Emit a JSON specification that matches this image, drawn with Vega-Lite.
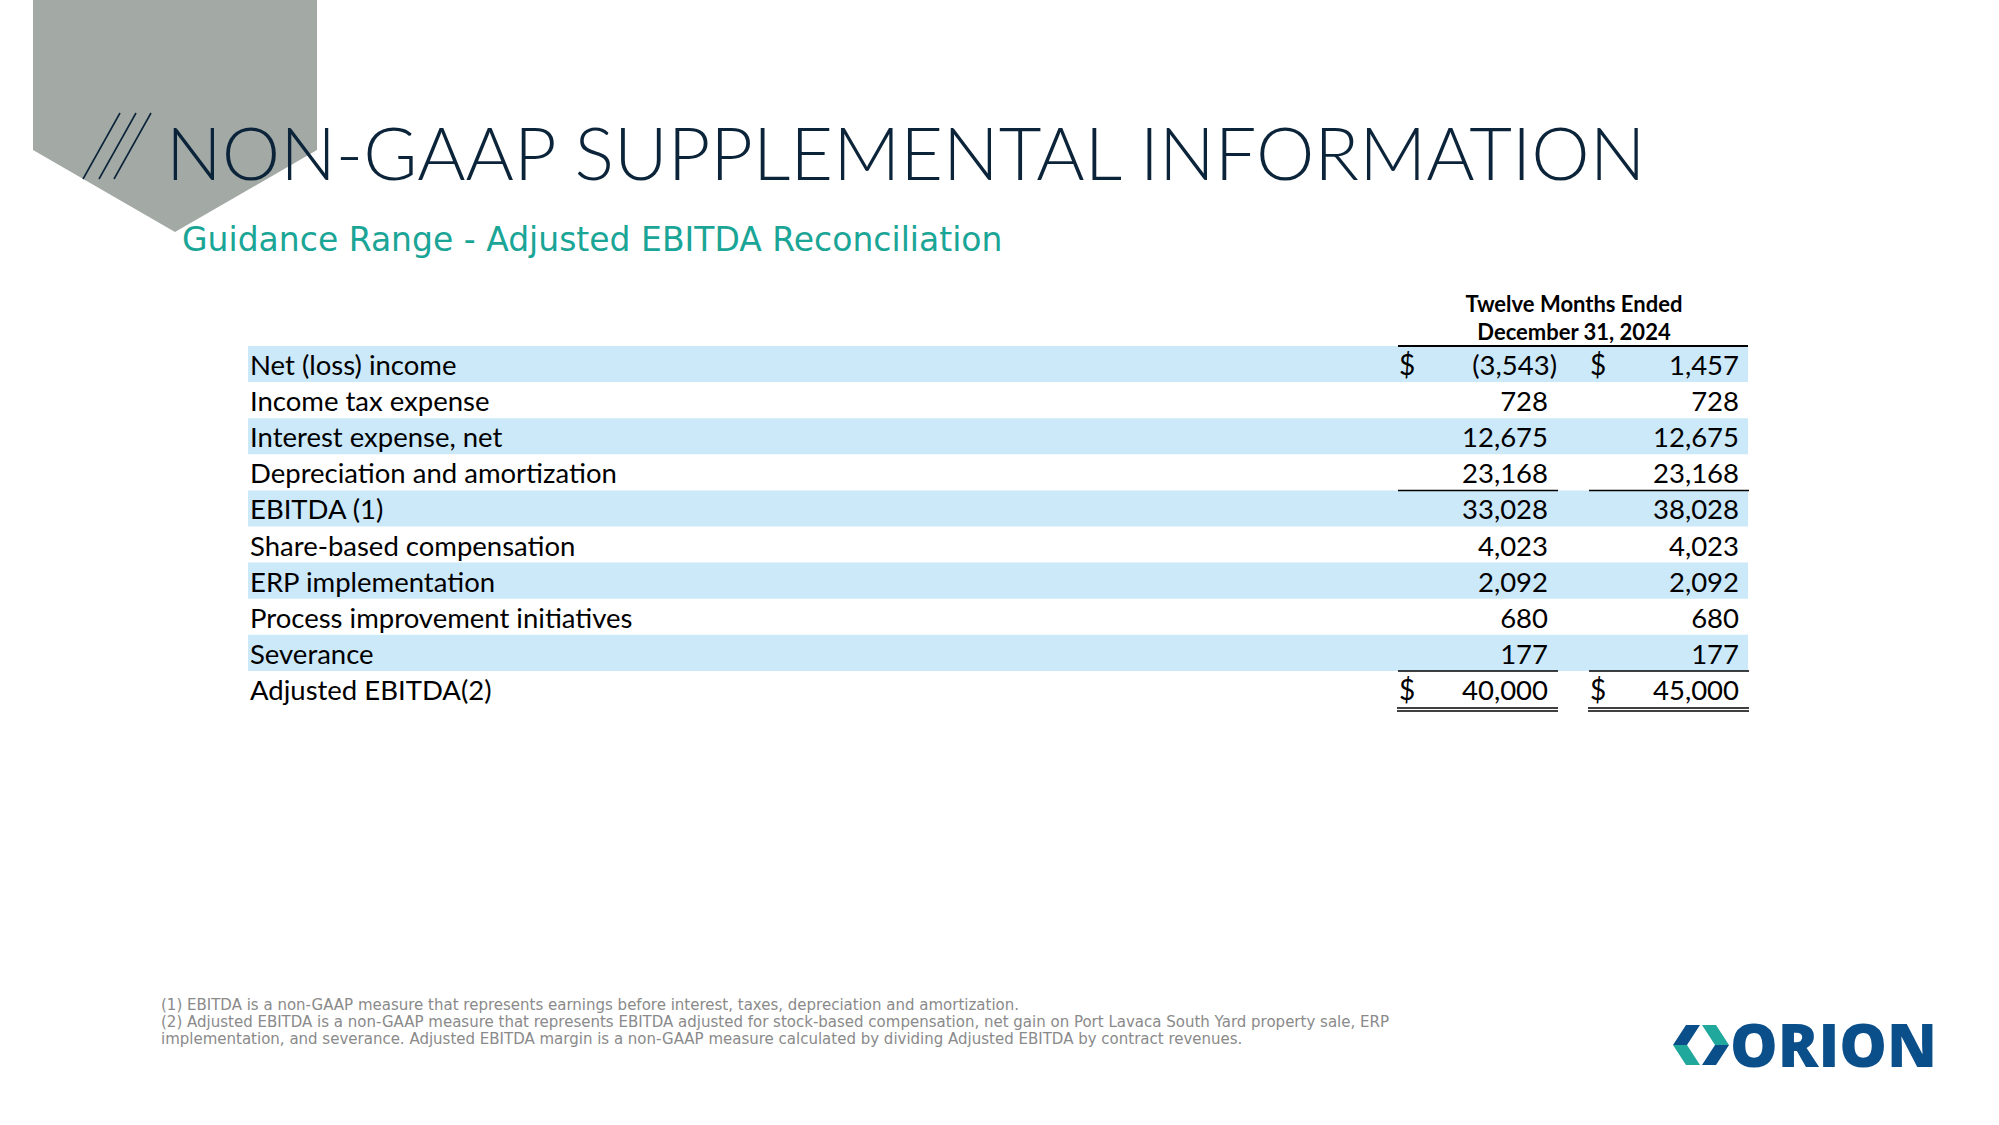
{
  "$schema": "https://vega.github.io/schema/vega-lite/v6.json",
  "width": 1999,
  "height": 1125,
  "padding": 0,
  "autosize": {"type": "none"},
  "background": "white",
  "config": {"view": {"stroke": null}},
  "data": {
    "values": [
      {"row": 1, "label": "Net (loss) income", "low": -3543, "high": 1457, "cur": "$", "kind": "item"},
      {"row": 2, "label": "Income tax expense", "low": 728, "high": 728, "kind": "item"},
      {"row": 3, "label": "Interest expense, net", "low": 12675, "high": 12675, "kind": "item"},
      {"row": 4, "label": "Depreciation and amortization", "low": 23168, "high": 23168, "kind": "item"},
      {"row": 5, "label": "EBITDA (1)", "low": 33028, "high": 38028, "kind": "subtotal"},
      {"row": 6, "label": "Share-based compensation", "low": 4023, "high": 4023, "kind": "item"},
      {"row": 7, "label": "ERP implementation", "low": 2092, "high": 2092, "kind": "item"},
      {"row": 8, "label": "Process improvement initiatives", "low": 680, "high": 680, "kind": "item"},
      {"row": 9, "label": "Severance", "low": 177, "high": 177, "kind": "item"},
      {"row": 10, "label": "Adjusted EBITDA(2)", "low": 40000, "high": 45000, "cur": "$", "kind": "total"}
    ]
  },
  "layer": [
    {
      "data": {"values": [{"part": "banner"}]},
      "mark": {"type": "point", "shape": "M33,0L317,0L317,150L175,232L33,150Z", "filled": true, "fill": "#a3aaa6", "opacity": 1, "strokeWidth": 0, "size": 4},
      "encoding": {"x": {"value": 0}, "y": {"value": 0}}
    },
    {
      "data": {"values": [{"part": "slashes"}]},
      "mark": {"type": "point", "shape": "M83,179L120,113M99,179L136,113M114,179L151,113", "filled": false, "stroke": "#0c2439", "strokeWidth": 1.6, "opacity": 1, "size": 4},
      "encoding": {"x": {"value": 0}, "y": {"value": 0}}
    },
    {
      "data": {"values": [{"text": "NON-GAAP SUPPLEMENTAL INFORMATION"}]},
      "mark": {"type": "text", "font": "Lato", "fontWeight": 300, "fontSize": 73.8, "fill": "#0c2439", "align": "left", "baseline": "alphabetic"},
      "encoding": {"text": {"field": "text"}, "x": {"value": 166}, "y": {"value": 180}}
    },
    {
      "data": {"values": [{"text": "Guidance Range - Adjusted EBITDA Reconciliation"}]},
      "mark": {"type": "text", "font": "DejaVu Sans", "fontSize": 33, "fill": "#1aa596", "align": "left", "baseline": "alphabetic"},
      "encoding": {"text": {"field": "text"}, "x": {"value": 182}, "y": {"value": 251}}
    },
    {
      "transform": [{"filter": "datum.row % 2 == 1"}],
      "mark": {"type": "rect", "fill": "#cce9fa"},
      "encoding": {
        "x": {"value": 248},
        "x2": {"value": 1748},
        "y": {"field": "row", "type": "ordinal", "scale": {"type": "band", "domain": [1,2,3,4,5,6,7,8,9,10], "range": [346, 707], "paddingInner": 0, "paddingOuter": 0}, "axis": null}
      }
    },
    {
      "mark": {"type": "text", "font": "Lato", "fontSize": 27.5, "fill": "#000000", "align": "left", "baseline": "alphabetic", "dy": 11},
      "encoding": {
        "text": {"field": "label"},
        "x": {"value": 250},
        "y": {"field": "row", "type": "ordinal", "axis": null}
      }
    },
    {
      "data": {"values": [{"text": ["Twelve Months Ended", "December 31, 2024"]}]},
      "mark": {"type": "text", "font": "Lato", "fontWeight": "bold", "fontSize": 22, "fill": "#000000", "align": "center", "baseline": "alphabetic", "lineHeight": 27.5},
      "encoding": {"text": {"field": "text"}, "x": {"value": 1574}, "y": {"value": 312}}
    },
    {
      "transform": [{"filter": "datum.row == 1"}],
      "mark": {"type": "rule", "stroke": "#000000", "strokeWidth": 2, "xOffset": -150, "x2Offset": 9},
      "encoding": {
        "x": {"datum": "low", "type": "nominal", "scale": {"type": "point", "domain": ["low", "high"], "range": [1548, 1739], "padding": 0}, "axis": null},
        "x2": {"datum": "high"},
        "y": {"field": "row", "type": "ordinal", "bandPosition": 0, "axis": null}
      }
    },
    {
      "transform": [{"filter": "datum.cur"}, {"fold": ["low", "high"], "as": ["key", "amount"]}],
      "mark": {"type": "text", "font": "Lato", "fontSize": 28, "fill": "#000000", "align": "left", "baseline": "alphabetic", "dy": 11, "dx": -149},
      "encoding": {
        "text": {"field": "cur"},
        "x": {"field": "key", "type": "nominal", "axis": null},
        "y": {"field": "row", "type": "ordinal", "axis": null}
      }
    },
    {
      "transform": [{"fold": ["low", "high"], "as": ["key", "amount"]}, {"filter": "datum.amount >= 0"}],
      "mark": {"type": "text", "font": "Lato", "fontSize": 27.5, "fill": "#000000", "align": "right", "baseline": "alphabetic", "dy": 11},
      "encoding": {
        "text": {"field": "amount", "type": "quantitative", "format": ","},
        "x": {"field": "key", "type": "nominal", "axis": null},
        "y": {"field": "row", "type": "ordinal", "axis": null}
      }
    },
    {
      "transform": [{"fold": ["low", "high"], "as": ["key", "amount"]}, {"filter": "datum.amount < 0"}],
      "mark": {"type": "text", "font": "Lato", "fontSize": 27.5, "fill": "#000000", "align": "right", "baseline": "alphabetic", "dy": 11, "dx": 9},
      "encoding": {
        "text": {"field": "amount", "type": "quantitative", "format": "(,"},
        "x": {"field": "key", "type": "nominal", "axis": null},
        "y": {"field": "row", "type": "ordinal", "axis": null}
      }
    },
    {
      "transform": [{"filter": "datum.kind != 'item'"}, {"fold": ["low", "high"], "as": ["key", "amount"]}],
      "mark": {"type": "rule", "stroke": "#000000", "strokeWidth": 1.5, "xOffset": -150, "x2Offset": 10},
      "encoding": {
        "x": {"field": "key", "type": "nominal", "axis": null},
        "x2": {"field": "key"},
        "y": {"field": "row", "type": "ordinal", "bandPosition": 0, "axis": null}
      }
    },
    {
      "transform": [{"filter": "datum.kind == 'total'"}, {"fold": ["low", "high"], "as": ["key", "amount"]}],
      "mark": {"type": "rule", "stroke": "#000000", "strokeWidth": 1.5, "xOffset": -151, "x2Offset": 10, "yOffset": 1},
      "encoding": {
        "x": {"field": "key", "type": "nominal", "axis": null},
        "x2": {"field": "key"},
        "y": {"field": "row", "type": "ordinal", "bandPosition": 1, "axis": null}
      }
    },
    {
      "transform": [{"filter": "datum.kind == 'total'"}, {"fold": ["low", "high"], "as": ["key", "amount"]}],
      "mark": {"type": "rule", "stroke": "#000000", "strokeWidth": 1.5, "xOffset": -151, "x2Offset": 10, "yOffset": 4},
      "encoding": {
        "x": {"field": "key", "type": "nominal", "axis": null},
        "x2": {"field": "key"},
        "y": {"field": "row", "type": "ordinal", "bandPosition": 1, "axis": null}
      }
    },
    {
      "data": {"values": [{"text": [
        "(1) EBITDA is a non-GAAP measure that represents earnings before interest, taxes, depreciation and amortization.",
        "(2) Adjusted EBITDA is a non-GAAP measure that represents EBITDA adjusted for stock-based compensation, net gain on Port Lavaca South Yard property sale, ERP",
        "implementation, and severance. Adjusted EBITDA margin is a non-GAAP measure calculated by dividing Adjusted EBITDA by contract revenues."
      ]}]},
      "mark": {"type": "text", "font": "DejaVu Sans", "fontSize": 15, "fill": "#8a8a8a", "align": "left", "baseline": "alphabetic", "lineHeight": 17},
      "encoding": {"text": {"field": "text"}, "x": {"value": 161}, "y": {"value": 1010}}
    },
    {
      "data": {"values": [{"text": "ORION"}]},
      "mark": {"type": "text", "font": "Open Sans", "fontWeight": 800, "fontSize": 60, "fill": "#0b4f8a", "align": "left", "baseline": "alphabetic"},
      "encoding": {"text": {"field": "text"}, "x": {"value": 1730}, "y": {"value": 1067}}
    },
    {
      "data": {"values": [{"part": "logo-blue"}]},
      "mark": {"type": "point", "shape": "M1686,1025L1700,1025L1687,1045L1673,1045ZM1715,1045L1729,1045L1716,1065L1702,1065Z", "filled": true, "fill": "#0b4f8a", "opacity": 1, "strokeWidth": 0, "size": 4},
      "encoding": {"x": {"value": 0}, "y": {"value": 0}}
    },
    {
      "data": {"values": [{"part": "logo-teal"}]},
      "mark": {"type": "point", "shape": "M1673,1045L1687,1045L1700,1065L1686,1065ZM1702,1025L1716,1025L1729,1045L1715,1045Z", "filled": true, "fill": "#1fa89b", "opacity": 1, "strokeWidth": 0, "size": 4},
      "encoding": {"x": {"value": 0}, "y": {"value": 0}}
    }
  ]
}
